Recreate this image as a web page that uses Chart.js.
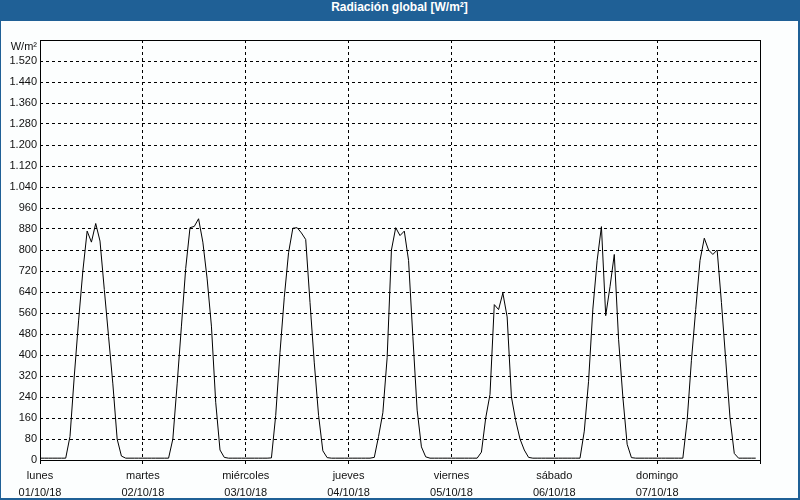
<!DOCTYPE html>
<html>
<head>
<meta charset="utf-8">
<script src="https://cdn.jsdelivr.net/npm/chart.js@4.4.1/dist/chart.umd.min.js"></script>
<style>
  html, body { margin: 0; padding: 0; background: #fff; }
  #frame {
    position: relative;
    width: 800px;
    height: 500px;
    box-sizing: border-box;
    border-left: 1px solid #1f6096;
    border-right: 2px solid #1f6096;
    border-bottom: 2px solid #1f6096;
    background: #fcfefe;
    overflow: hidden;
  }
  #title {
    position: absolute;
    left: 0; top: 0;
    width: 100%;
    height: 21px;
    line-height: 22px;
    background: #1f6096;
    color: #fff;
    font: bold 12px "Liberation Sans", sans-serif;
    text-align: center;
  }
  #chart { position: absolute; left: -1px; top: 0; }
</style>
</head>
<body>
<div id="frame">
  <div id="title">Radiación global [W/m²]</div>
  <canvas id="chart" width="800" height="500"></canvas>
</div>
<script>
// one value per hour, 00:00 .. 23:00
const dayNames = ["lunes", "martes", "miércoles", "jueves", "viernes", "sábado", "domingo"];
const dayDates = ["01/10/18", "02/10/18", "03/10/18", "04/10/18", "05/10/18", "06/10/18", "07/10/18"];

const lunes     = [7, 7, 7, 7, 7, 7, 7, 90, 320, 530, 720, 872, 830, 901, 834, 650, 470, 290, 80, 15, 7, 7, 7, 7];
const martes    = [7, 7, 7, 7, 7, 7, 7, 80, 290, 510, 730, 885, 890, 919, 830, 690, 510, 220, 38, 10, 7, 7, 7, 7];
const miercoles = [7, 7, 7, 7, 7, 7, 8, 170, 410, 620, 790, 883, 885, 865, 840, 600, 370, 170, 35, 9, 7, 7, 7, 7];
const jueves    = [7, 7, 7, 7, 7, 7, 10, 90, 180, 390, 800, 885, 855, 872, 760, 470, 190, 50, 12, 7, 7, 7, 7, 7];
const viernes   = [7, 7, 7, 7, 7, 7, 7, 30, 160, 250, 592, 573, 636, 545, 240, 150, 80, 38, 10, 7, 7, 7, 7, 7];
const sabado    = [7, 7, 7, 7, 7, 7, 7, 110, 300, 575, 760, 889, 550, 660, 783, 460, 240, 60, 9, 7, 7, 7, 7, 7];
const domingo   = [7, 7, 7, 7, 7, 7, 7, 150, 380, 573, 760, 845, 800, 783, 800, 600, 382, 160, 25, 7, 7, 7, 7, 7];

const yTicks = [0, 80, 160, 240, 320, 400, 480, 560, 640, 720, 800, 880, 960, 1040, 1120, 1200, 1280, 1360, 1440, 1520];
const yUnit = "W/m²";

const hourly = [].concat(lunes, martes, miercoles, jueves, viernes, sabado, domingo);
const points = hourly.map((v, i) => ({ x: i, y: v }));

function fmt(v) {
  return String(v).replace(/\B(?=(\d{3})+(?!\d))/g, ".");
}

const frame = {
  id: "frame",
  afterDraw(chart) {
    const { ctx, chartArea: a } = chart;
    ctx.save();
    ctx.strokeStyle = "#000";
    ctx.lineWidth = 1;
    ctx.strokeRect(Math.round(a.left) + 0.5, Math.round(a.top) + 0.5,
      Math.round(a.right - a.left), Math.round(a.bottom - a.top));
    ctx.fillStyle = "#111";
    ctx.font = '11px "Liberation Sans", sans-serif';
    ctx.textAlign = "right";
    ctx.textBaseline = "middle";
    ctx.fillText(yUnit, a.left - 3, a.top + 7);
    ctx.restore();
  }
};

new Chart(document.getElementById("chart"), {
  type: "line",
  data: {
    datasets: [{
      data: points,
      borderColor: "#000",
      borderWidth: 1,
      pointRadius: 0,
      tension: 0,
      fill: false
    }]
  },
  options: {
    responsive: false,
    animation: false,
    layout: { padding: { top: 40, right: 40, left: 0, bottom: 0 } },
    plugins: {
      legend: { display: false },
      tooltip: { enabled: false }
    },
    scales: {
      x: {
        type: "linear",
        min: 0,
        max: 168,
        afterBuildTicks(scale) {
          scale.ticks = dayNames.map((d, i) => ({ value: i * 24 })).concat([{ value: 168 }]);
        },
        afterFit(scale) { scale.height = 40; },
        border: { display: false, dash: [3, 3] },
        grid: {
          color: ctx => (ctx.tick && (ctx.tick.value === 0 || ctx.tick.value === 168)) ? "rgba(0,0,0,0)" : "#000",
          lineWidth: 1,
          drawTicks: true,
          tickLength: 4,
          tickColor: "#000",
          tickBorderDash: []
        },
        ticks: {
          autoSkip: false,
          maxRotation: 0,
          padding: 3,
          color: "#111",
          font: { family: "Liberation Sans", size: 11, lineHeight: 1.6 },
          callback: v => {
            const i = v / 24;
            return i < dayNames.length ? [dayNames[i], dayDates[i]] : "";
          }
        }
      },
      y: {
        min: 0,
        max: 1600,
        afterBuildTicks(scale) {
          scale.ticks = yTicks.map(v => ({ value: v })).concat([{ value: 1600 }]);
        },
        afterFit(scale) { scale.width = 40; },
        border: { display: false, dash: [3, 3] },
        grid: {
          color: ctx => (ctx.tick && (ctx.tick.value === 0 || ctx.tick.value === 1600)) ? "rgba(0,0,0,0)" : "#000",
          lineWidth: 1,
          drawTicks: false
        },
        ticks: {
          padding: 3,
          color: "#111",
          font: { family: "Liberation Sans", size: 11 },
          callback: v => v === 1600 ? "" : fmt(v)
        }
      }
    }
  },
  plugins: [frame]
});
</script>
</body>
</html>
